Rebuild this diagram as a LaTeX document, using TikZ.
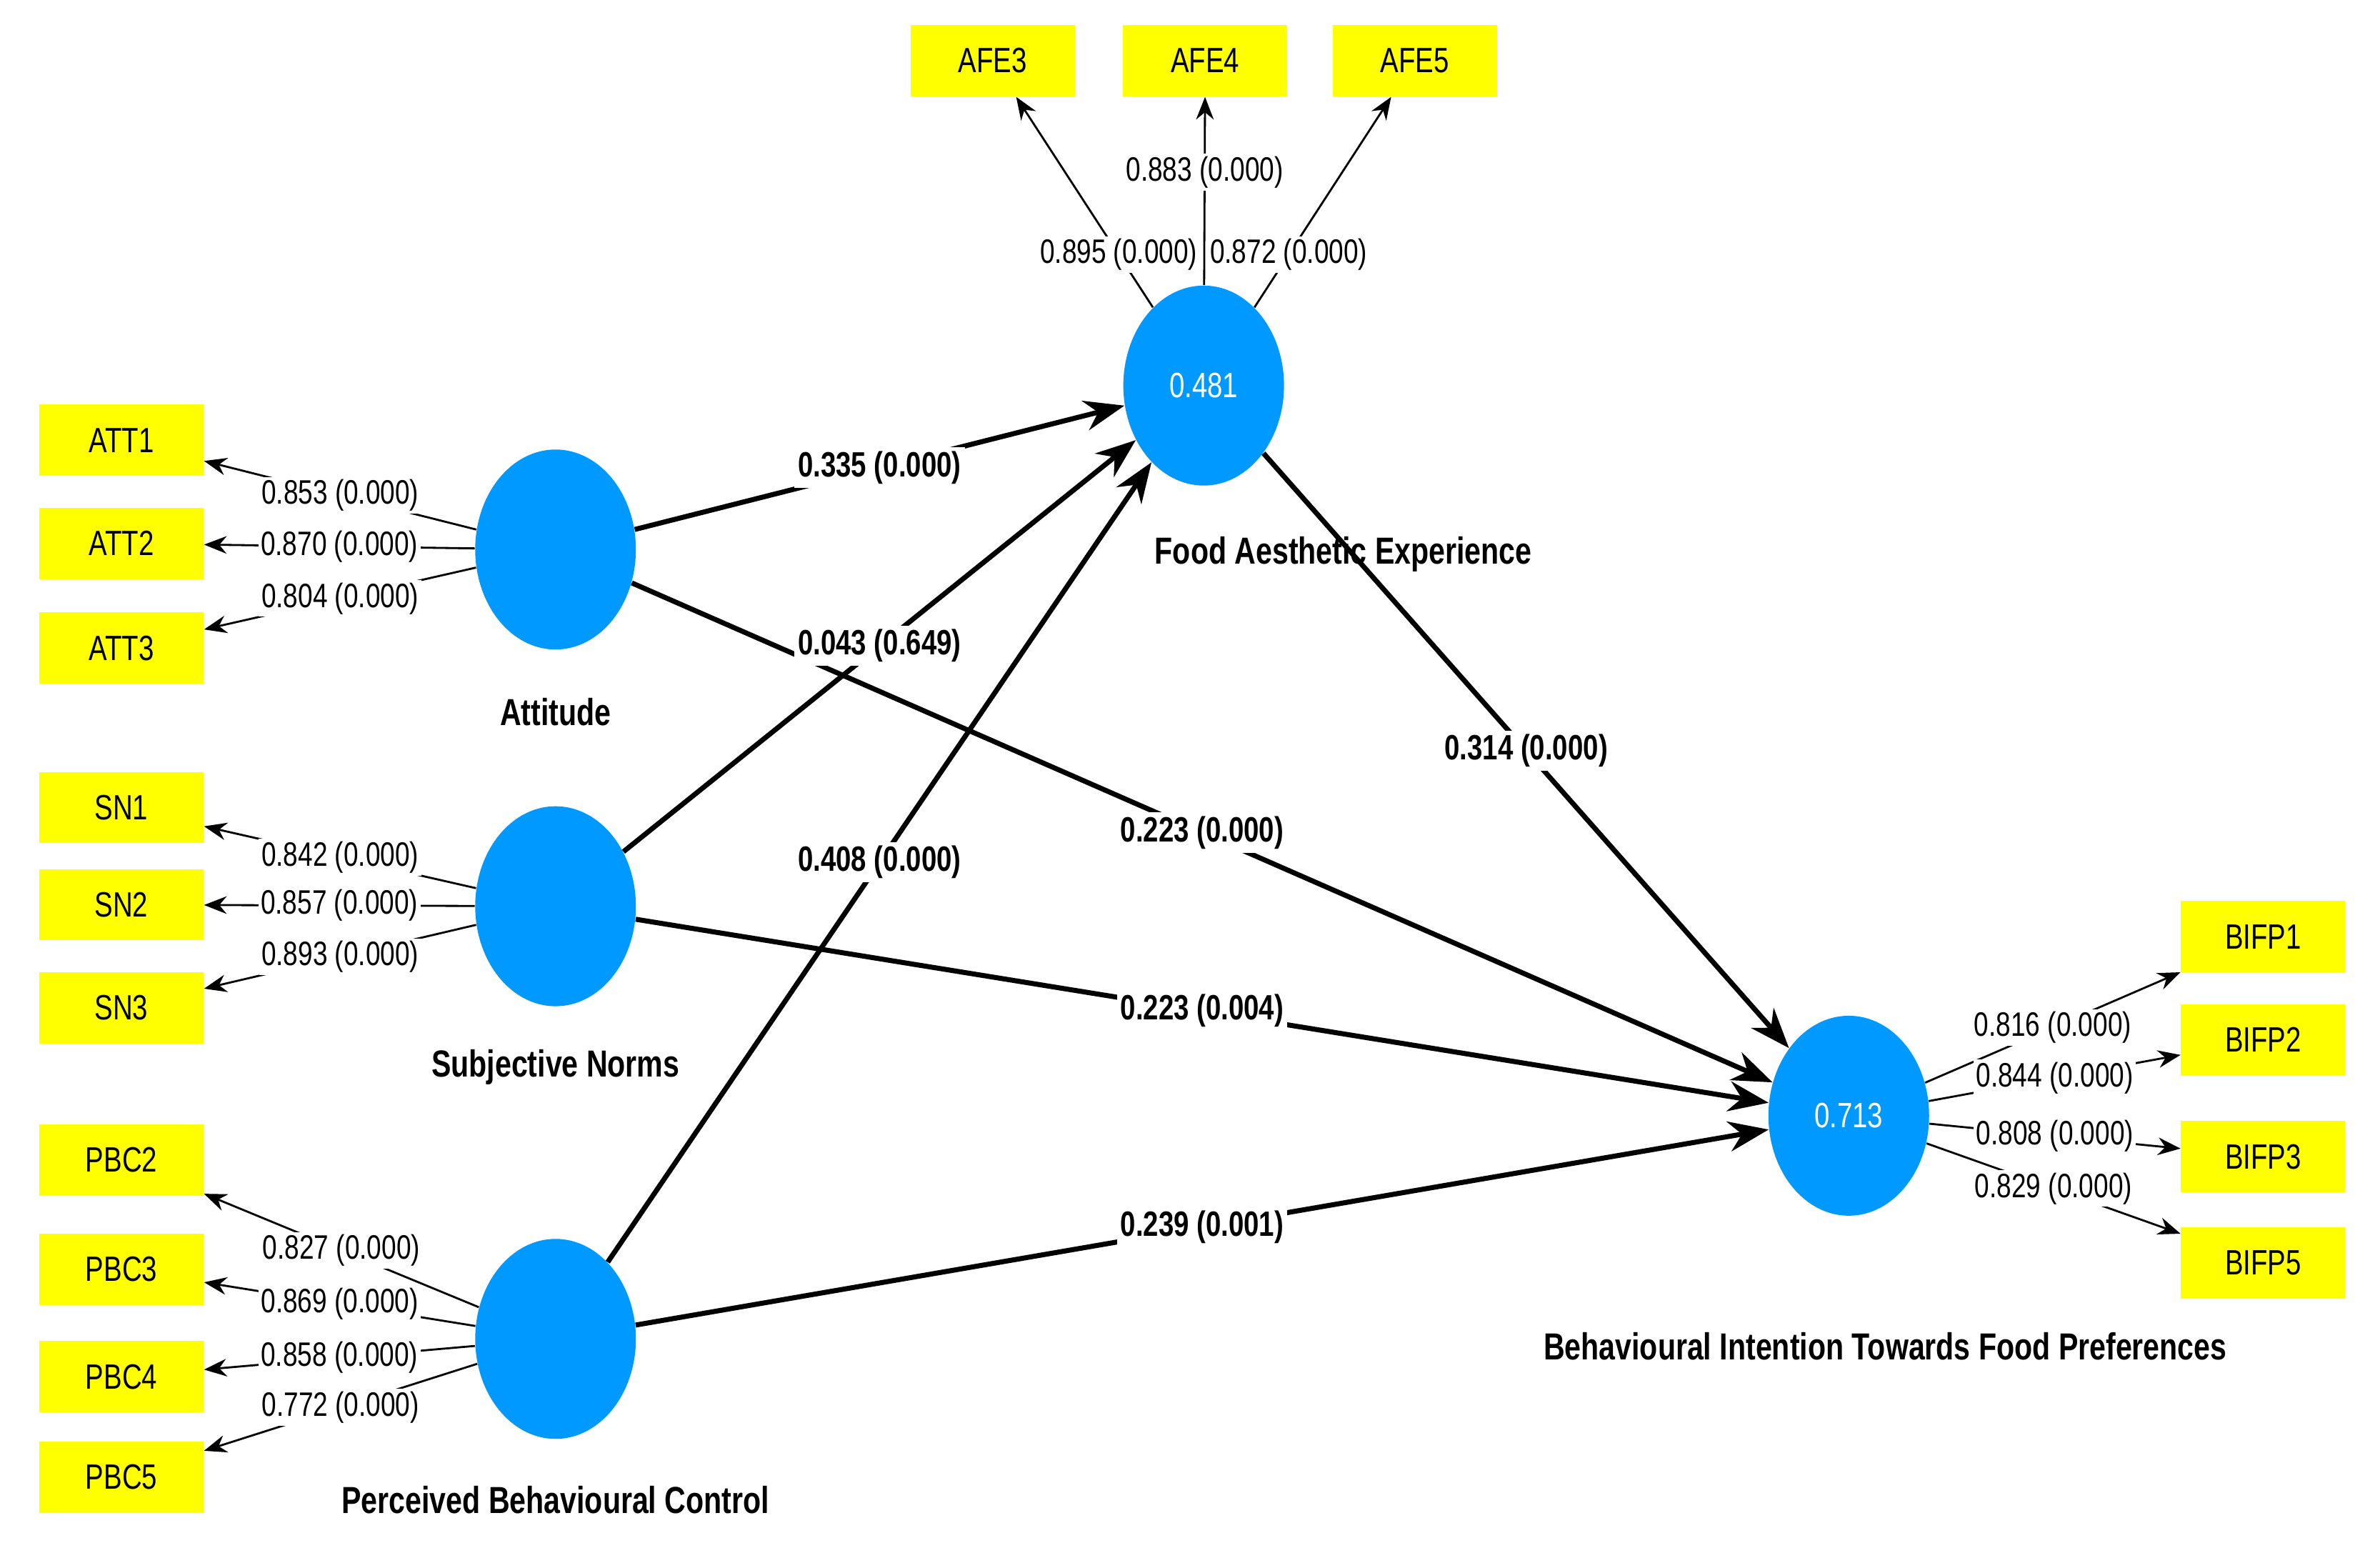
\documentclass[tikz,border=0pt]{standalone}
\usepackage{fontspec}
\setmainfont{Liberation Sans}[FakeStretch=0.78]
\usetikzlibrary{arrows.meta,shapes.geometric}
\definecolor{ind}{RGB}{255,255,0}
\definecolor{lv}{RGB}{0,153,255}
\begin{document}
\begin{tikzpicture}[x=0.02125cm,y=-0.02125cm,
 box/.style={fill=ind,minimum width=2.3cm,minimum height=1.0cm,inner sep=0,font=\fontsize{14}{16}\selectfont},
 lat/.style={ellipse,fill=lv,minimum width=2.25cm,minimum height=2.8cm,inner sep=0,text=white,font=\fontsize{14}{16}\selectfont},
 ttl/.style={font=\bfseries\fontsize{15}{17}\selectfont},
 load/.style={line width=0.8pt,-{Stealth[length=9pt,width=7pt]}},
 path/.style={line width=2pt,-{Stealth[length=16pt,width=12pt]}},
 ll/.style={fill=white,inner sep=1pt,font=\fontsize{13.5}{15}\selectfont},
 pl/.style={fill=white,inner sep=1.5pt,font=\bfseries\fontsize{14}{16}\selectfont}]
\useasboundingbox (0,0) rectangle (1568,1026);
% indicators
\node[box] (afe3) at (654,40) {AFE3};
\node[box] (afe4) at (794,40) {AFE4};
\node[box] (afe5) at (932,40) {AFE5};
\node[box] (att1) at (80,290) {ATT1};
\node[box] (att2) at (80,358) {ATT2};
\node[box] (att3) at (80,427) {ATT3};
\node[box] (sn1) at (80,532) {SN1};
\node[box] (sn2) at (80,596) {SN2};
\node[box] (sn3) at (80,664) {SN3};
\node[box] (pbc2) at (80,764) {PBC2};
\node[box] (pbc3) at (80,836) {PBC3};
\node[box] (pbc4) at (80,907) {PBC4};
\node[box] (pbc5) at (80,973) {PBC5};
\node[box] (bi1) at (1491,617) {BIFP1};
\node[box] (bi2) at (1491,685) {BIFP2};
\node[box] (bi3) at (1491,762) {BIFP3};
\node[box] (bi5) at (1491,832) {BIFP5};
% latent
\node[lat] (fae) at (793,254) {0.481};
\node[lat] (att) at (366,362) {};
\node[lat] (sn) at (366,597) {};
\node[lat] (pbc) at (366,882) {};
\node[lat] (bi) at (1218,735) {0.713};
\node[ttl] (lfae) at (885,365) {Food Aesthetic Experience};
\node[ttl] (latt) at (366,469) {Attitude};
\node[ttl] (lsn) at (366,703) {Subjective Norms};
\node[ttl] (lpbc) at (366,988) {Perceived Behavioural Control};
\node[ttl] (lbi) at (1242,887) {Behavioural Intention Towards Food Preferences};
% loadings
\draw[load] (fae) -- node[ll,pos=0.25]{0.895 (0.000)} (afe3);
\draw[load] (fae) -- node[ll,pos=0.6]{0.883 (0.000)} (afe4);
\draw[load] (fae) -- node[ll,pos=0.25]{0.872 (0.000)} (afe5);
\draw[load] (att) -- node[ll]{0.853 (0.000)} (att1);
\draw[load] (att) -- node[ll]{0.870 (0.000)} (att2);
\draw[load] (att) -- node[ll]{0.804 (0.000)} (att3);
\draw[load] (sn) -- node[ll]{0.842 (0.000)} (sn1);
\draw[load] (sn) -- node[ll]{0.857 (0.000)} (sn2);
\draw[load] (sn) -- node[ll]{0.893 (0.000)} (sn3);
\draw[load] (pbc) -- node[ll]{0.827 (0.000)} (pbc2);
\draw[load] (pbc) -- node[ll]{0.869 (0.000)} (pbc3);
\draw[load] (pbc) -- node[ll]{0.858 (0.000)} (pbc4);
\draw[load] (pbc) -- node[ll]{0.772 (0.000)} (pbc5);
\draw[load] (bi) -- node[ll]{0.816 (0.000)} (bi1);
\draw[load] (bi) -- node[ll]{0.844 (0.000)} (bi2);
\draw[load] (bi) -- node[ll]{0.808 (0.000)} (bi3);
\draw[load] (bi) -- node[ll]{0.829 (0.000)} (bi5);
% paths
\draw[path] (att) -- node[pl]{0.335 (0.000)} (fae);
\draw[path] (att) -- node[pl]{0.223 (0.000)} (bi);
\draw[path] (sn) -- node[pl]{0.043 (0.649)} (fae);
\draw[path] (sn) -- node[pl]{0.223 (0.004)} (bi);
\draw[path] (pbc) -- node[pl]{0.408 (0.000)} (fae);
\draw[path] (pbc) -- node[pl]{0.239 (0.001)} (bi);
\draw[path] (fae) -- node[pl]{0.314 (0.000)} (bi);
\end{tikzpicture}
\end{document}
